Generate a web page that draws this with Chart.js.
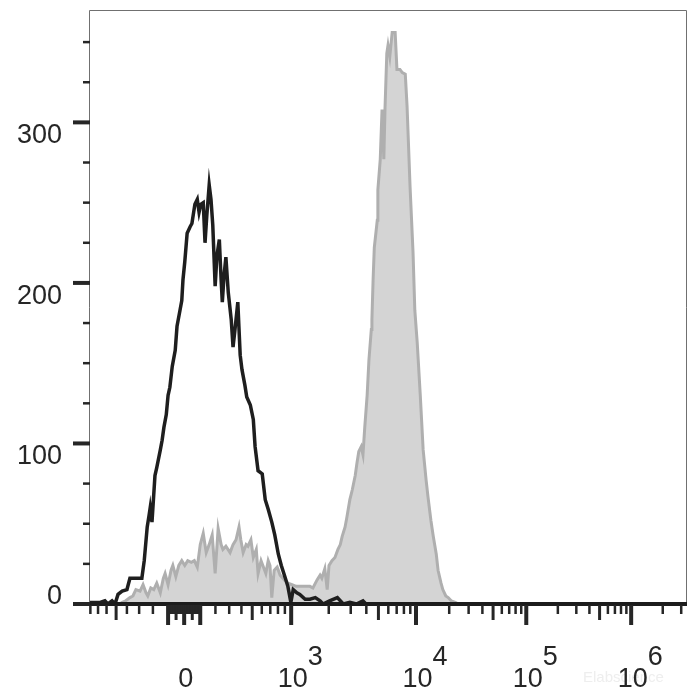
<!DOCTYPE html>
<html>
<head>
<meta charset="utf-8">
<script src="https://cdn.jsdelivr.net/npm/chart.js@4/dist/chart.umd.min.js"></script>
<style>
  html, body { margin: 0; padding: 0; background: #fff; }
  #wrap { width: 700px; height: 700px; }
</style>
</head>
<body>
<div id="wrap"><canvas id="histo"></canvas></div>
<script>
// display channel (0-1000) and event counts
const isoChannels = [
    0, 17, 25, 30, 37, 42, 47, 54, 62, 67,
    87, 91, 96, 99, 101, 104, 109, 112, 118, 121,
    124, 128, 131, 134, 138, 143, 146, 151, 154, 156,
    159, 163, 168, 171, 176, 180, 183, 186, 190, 193,
    196, 200, 203, 206, 210, 213, 217, 220, 222, 225,
    228, 232, 237, 240, 243, 248, 252, 255, 260, 263,
    269, 274, 277, 282, 289, 294, 299, 305, 310, 316,
    321, 327, 332, 337, 341, 347, 352, 361, 369, 378,
    386, 391, 402, 415, 425, 436, 447, 458, 463, 1000
];
const isoCounts = [
    1, 1, 2, 0, 2, 0, 6, 8, 9, 16,
    16, 27, 48, 55, 60, 51, 80, 85, 96, 102,
    110, 118, 130, 135, 148, 158, 173, 183, 189, 202,
    213, 231, 235, 237, 249, 252, 244, 249, 250, 225,
    242, 261, 252, 236, 198, 217, 227, 202, 188, 205,
    216, 194, 177, 160, 170, 188, 155, 146, 136, 129,
    124, 115, 98, 83, 81, 65, 59, 51, 43, 31,
    24, 17, 11, 1, 9, 7, 6, 3, 3, 4,
    2, 0, 2, 4, 0, 1, 0, 2, 0, 0
];

const stainChannels = [
    0, 50, 54, 60, 67, 72, 77, 84, 89, 94,
    97, 102, 107, 112, 118, 123, 126, 131, 136, 139,
    144, 149, 154, 159, 164, 170, 175, 180, 185, 190,
    195, 200, 205, 210, 215, 220, 223, 228, 235, 240,
    245, 250, 253, 257, 262, 265, 270, 274, 279, 282,
    287, 290, 295, 299, 302, 305, 309, 314, 319, 326,
    332, 339, 346, 352, 361, 369, 374, 381, 386, 389,
    394, 398, 401, 406, 411, 416, 420, 423, 428, 431,
    436, 440, 445, 448, 451, 455, 458, 461, 465, 468,
    472, 473, 475, 477, 482, 483, 487, 490, 493, 495,
    498, 500, 503, 507, 512, 515, 520, 524, 529, 532,
    537, 542, 545, 549, 554, 559, 564, 567, 572, 576,
    581, 584, 589, 592, 597, 601, 606, 613, 618, 1000
];
const stainCounts = [
    0, 0, 1, 2, 4, 5, 9, 8, 12, 7,
    5, 10, 9, 13, 7, 16, 19, 12, 21, 24,
    17, 24, 27, 24, 27, 26, 27, 23, 37, 44,
    32, 37, 43, 19, 47, 37, 34, 36, 32, 37,
    40, 48, 40, 32, 37, 36, 40, 29, 34, 19,
    27, 24, 19, 27, 24, 4, 21, 23, 18, 15,
    13, 12, 11, 11, 11, 11, 10, 15, 18, 16,
    22, 9, 24, 27, 29, 34, 37, 42, 48, 54,
    65, 71, 80, 88, 95, 98, 93, 110, 130, 152,
    171, 177, 202, 222, 239, 258, 277, 308, 277, 309,
    343, 348, 341, 356, 356, 333, 333, 331, 330, 310,
    260, 219, 183, 163, 131, 96, 77, 67, 52, 42,
    31, 21, 13, 9, 5, 4, 2, 1, 0, 0
];

const yTickValues = [0, 100, 200, 300];
const xLabelValues = [0, 1e3, 1e4, 1e5, 1e6];
const xLabelBases = ['0', '10', '10', '10', '10'];
const xLabelExps = ['', '3', '4', '5', '6'];

// logicle-like display: asinh around zero, log decades above 10^3
const zeroChannel = 158;
const linWidth = 400;
const linScale = 109;
const decadeExps = [3, 4, 5, 6];
const decadeChannels = [337.5, 547, 732, 908];

function toChannel(v) {
    if (Math.abs(v) <= 1000) return zeroChannel + linScale * Math.asinh(v / linWidth);
    const e = Math.log10(v);
    let i = 0;
    while (i < decadeExps.length - 2 && e > decadeExps[i + 1]) i++;
    const t = (e - decadeExps[i]) / (decadeExps[i + 1] - decadeExps[i]);
    return decadeChannels[i] + t * (decadeChannels[i + 1] - decadeChannels[i]);
}

// tick marks: 0, +-10..+-900 linear part, then m*10^n
const xTicks = [{ ch: toChannel(0), kind: 'long' }];
for (let n = 1; n <= 6; n++) {
    for (let m = 1; m <= 9; m++) {
        const v = m * Math.pow(10, n);
        const kind = (m === 1 && n >= 2) ? 'long' : (m === 5 ? 'mid' : 'short');
        const vals = v <= 1000 ? [v, -v] : [v];
        vals.forEach(val => {
            const ch = toChannel(val);
            if (ch >= 0 && ch <= 1000) xTicks.push({ ch, kind });
        });
    }
}
const tickLen = { short: 9, mid: 15, long: 20 };
const tickW = { short: 2.5, mid: 3, long: 4 };

const toPoints = (xs, ys) => xs.map((x, i) => ({ x: x, y: ys[i] }));

const labelFont = '27px "Liberation Sans", Arial, sans-serif';
const inkColor = '#262626';

const flowAxes = {
    id: 'flowAxes',
    afterDatasetsDraw(chart) {
        const { ctx, chartArea: a, scales: { x, y } } = chart;
        ctx.save();

        // thin frame
        ctx.strokeStyle = '#707070';
        ctx.lineWidth = 1;
        ctx.beginPath();
        ctx.moveTo(a.left - 0.5, a.bottom);
        ctx.lineTo(a.left - 0.5, a.top + 0.5);
        ctx.lineTo(a.right + 0.5, a.top + 0.5);
        ctx.lineTo(a.right + 0.5, a.bottom);
        ctx.stroke();

        // heavy baseline
        ctx.strokeStyle = '#1c1c1c';
        ctx.lineWidth = 4;
        ctx.beginPath();
        ctx.moveTo(a.left - 1, a.bottom);
        ctx.lineTo(a.right + 1, a.bottom);
        ctx.stroke();

        // y ticks every 25, labelled every 100
        ctx.strokeStyle = inkColor;
        for (let v = 0; v <= y.max; v += 25) {
            const py = y.getPixelForValue(v);
            const major = v % 100 === 0;
            ctx.lineWidth = major ? 4 : 2.5;
            ctx.beginPath();
            ctx.moveTo(a.left - (major ? 17 : 7), py);
            ctx.lineTo(a.left, py);
            ctx.stroke();
        }
        ctx.fillStyle = inkColor;
        ctx.font = labelFont;
        ctx.textAlign = 'right';
        ctx.textBaseline = 'alphabetic';
        yTickValues.forEach(v => {
            const py = y.getPixelForValue(v);
            ctx.fillText(String(v), a.left - 28, Math.min(py + 21, a.bottom));
        });

        // x ticks
        xTicks.forEach(t => {
            const px = x.getPixelForValue(t.ch);
            ctx.lineWidth = tickW[t.kind];
            ctx.beginPath();
            ctx.moveTo(px, a.bottom + 1);
            ctx.lineTo(px, a.bottom + 1 + tickLen[t.kind]);
            ctx.stroke();
        });

        // faint watermark
        ctx.fillStyle = '#eeeeee';
        ctx.font = '15px "Liberation Sans", Arial, sans-serif';
        ctx.textAlign = 'left';
        ctx.fillText('Elabscience', 583, 682);

        // x labels with raised exponents
        ctx.fillStyle = inkColor;
        ctx.font = labelFont;
        xLabelValues.forEach((v, i) => {
            const px = x.getPixelForValue(toChannel(v));
            const base = xLabelBases[i];
            const w = ctx.measureText(base).width;
            const x0 = px - w / 2 + 1.5;
            ctx.fillText(base, x0, a.bottom + 83);
            if (xLabelExps[i]) ctx.fillText(xLabelExps[i], x0 + w, a.bottom + 61);
        });

        ctx.restore();
    }
};

new Chart(document.getElementById('histo'), {
    type: 'line',
    data: {
        datasets: [
            {
                label: 'Isotype control',
                data: toPoints(isoChannels, isoCounts),
                borderColor: '#1e1e1e',
                borderWidth: 3.5,
                fill: false,
                pointRadius: 0,
                tension: 0
            },
            {
                label: 'Stained',
                data: toPoints(stainChannels, stainCounts),
                borderColor: '#afafaf',
                backgroundColor: '#d4d4d4',
                borderWidth: 3,
                fill: 'origin',
                pointRadius: 0,
                tension: 0
            }
        ]
    },
    options: {
        responsive: true,
        maintainAspectRatio: false,
        animation: false,
        layout: { padding: { left: 90, top: 10, right: 14, bottom: 96 } },
        plugins: { legend: { display: false }, tooltip: { enabled: false } },
        scales: {
            x: { type: 'linear', min: 0, max: 1000, display: false },
            y: { type: 'linear', min: 0, max: 370, display: false }
        }
    },
    plugins: [flowAxes]
});
</script>
</body>
</html>
